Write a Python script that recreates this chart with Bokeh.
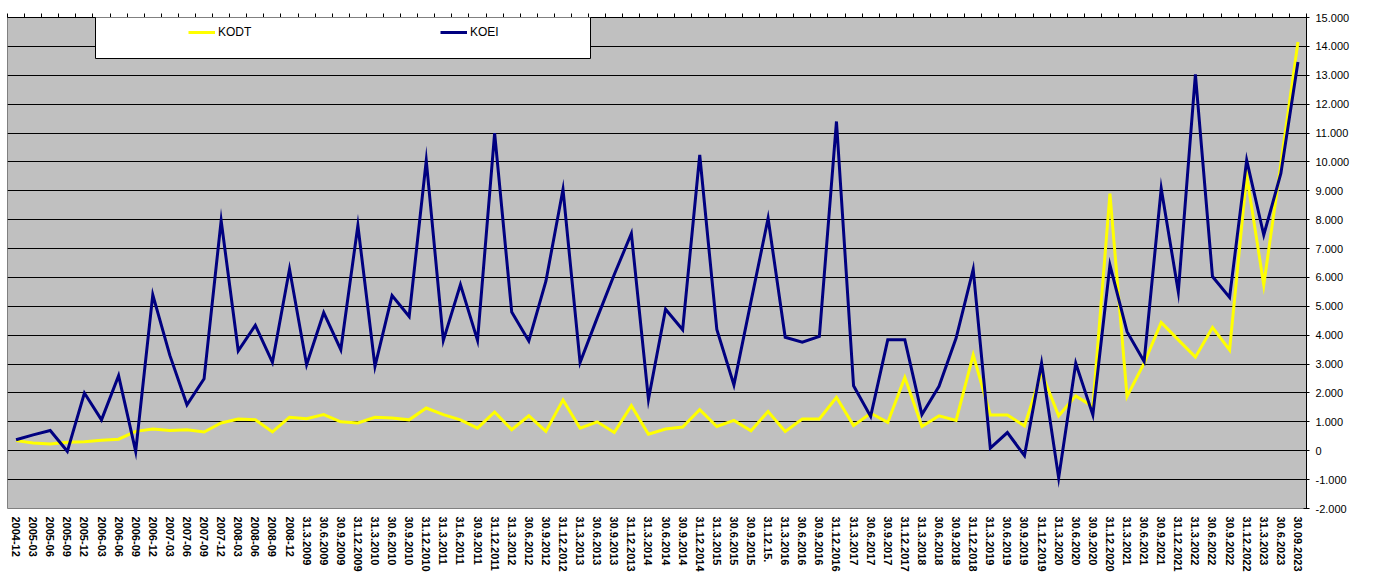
from bokeh.plotting import figure
from bokeh.models import (Range1d, LinearAxis, FixedTicker, SingleIntervalTicker,
                          CustomJSTickFormatter, Legend, LegendItem, BoxAnnotation, ColumnDataSource)
from bokeh.embed import file_html
from bokeh.resources import INLINE

periods = [
    "2004-12", "2005-03", "2005-06", "2005-09", "2005-12", "2006-03", "2006-06", "2006-09",
    "2006-12", "2007-03", "2007-06", "2007-09", "2007-12", "2008-03", "2008-06", "2008-09",
    "2008-12", "31.3.2009", "30.6.2009", "30.9.2009", "31.12.2009", "31.3.2010", "30.6.2010",
    "30.9.2010", "31.12.2010", "31.3.2011", "31.6.2011", "30.9.2011", "31.12.2011", "31.3.2012",
    "30.6.2012", "30.9.2012", "31.12.2012", "31.3.2013", "30.6.2013", "30.9.2013", "31.12.2013",
    "31.3.2014", "30.6.2014", "30.9.2014", "31.12.2014", "31.3.2015", "30.6.2015", "30.9.2015",
    "31.12.15.", "31.3.2016", "30.6.2016", "30.9.2016", "31.12.2016", "31.3.2017", "30.6.2017",
    "30.9.2017", "31.12.2017", "31.3.2018", "30.6.2018", "30.9.2018", "31.12.2018", "31.3.2019",
    "30.6.2019", "30.9.2019", "31.12.2019", "31.3.2020", "30.6.2020", "30.9.2020", "31.12.2020",
    "31.3.2021", "30.6.2021", "30.9.2021", "31.12.2021", "31.3.2022", "30.6.2022", "30.9.2022",
    "31.12.2022", "31.3.2023", "30.6.2023", "30.09.2023",
]

kodt = [
    350, 270, 230, 290, 310, 360, 400, 670,
    750, 700, 730, 650, 960, 1100, 1070, 650,
    1160, 1110, 1250, 1000, 960, 1160, 1130,
    1070, 1480, 1250, 1070, 780, 1340, 730,
    1210, 670, 1760, 780, 1000, 630, 1560,
    570, 750, 820, 1420, 840, 1050, 690,
    1360, 670, 1100, 1100, 1850, 870, 1300,
    980, 2540, 840, 1210, 1050, 3320, 1240,
    1240, 860, 2700, 1210, 1900, 1530, 8900,
    1880, 3030, 4440, 3840, 3240, 4270, 3490,
    9540, 5740, 9940, 14150,
]

koei = [
    380, 550, 700, -20, 2000, 1070, 2600, -20,
    5400, 3300, 1590, 2490, 7970, 3460, 4340, 3060,
    6290, 2980, 4780, 3500, 7800, 2920, 5370,
    4650, 10050, 3820, 5750, 3820, 11000, 4800,
    3800, 5870, 9050, 3050, 4600, 6100, 7520,
    1780, 4900, 4190, 10240, 4200, 2280, 5170,
    8050, 3930, 3760, 3960, 11400, 2250, 1190,
    3840, 3840, 1250, 2230, 3900, 6280, 90,
    630, -170, 3030, -940, 3030, 1240, 6430,
    4120, 3090, 9080, 5500, 13030, 6030, 5310,
    10060, 7470, 9600, 13460,
]

y_ticks_step = 1000
y_min, y_max = -2000, 15000

n = len(periods)
idx = list(range(n))
src = ColumnDataSource(data=dict(x=idx, period=periods, kodt=kodt, koei=koei))

p = figure(x_range=Range1d(-0.5, n - 0.5), y_range=Range1d(y_min, y_max),
           width=1376, height=574, output_backend="svg", toolbar_location=None,
           y_axis_location="right",
           min_border_left=7, min_border_top=17, min_border_right=70, min_border_bottom=66)

p.background_fill_color = "#C0C0C0"
p.border_fill_color = "white"
p.outline_line_color = "#808080"
p.outline_line_width = 1

# bottom category axis (one label per period)
xa = p.below[0]
xa.ticker = FixedTicker(ticks=idx, minor_ticks=[])
xa.major_label_overrides = {i: lab for i, lab in zip(idx, periods)}
xa.major_label_orientation = "vertical"
xa.axis_line_color = None
xa.major_tick_line_color = None
xa.minor_tick_line_color = None
xa.major_tick_out = 0
xa.major_tick_in = 0
xa.major_label_standoff = 8
xa.major_label_text_font = "Liberation Sans"
xa.major_label_text_font_size = "11px"
xa.major_label_text_font_style = "bold"
xa.major_label_text_color = "black"

# right value axis
ticker = SingleIntervalTicker(interval=y_ticks_step, num_minor_ticks=0)
ya = p.right[0]
ya.ticker = ticker
ya.formatter = CustomJSTickFormatter(code="""
    const v = Math.round(tick);
    const s = Math.abs(v).toString().replace(/\\B(?=(\\d{3})+(?!\\d))/g, '.');
    return (v < 0 ? '-' : '') + s;
""")
ya.axis_line_color = "black"
ya.major_tick_line_color = "black"
ya.major_tick_in = 3
ya.major_tick_out = 3
ya.minor_tick_line_color = None
ya.major_label_standoff = 6
ya.major_label_text_font = "Liberation Sans"
ya.major_label_text_font_size = "11px"
ya.major_label_text_color = "black"

p.xgrid.visible = False
p.ygrid.ticker = ticker
p.ygrid.grid_line_color = "black"
p.ygrid.grid_line_width = 1

# top axis with category boundary ticks (no labels)
top = LinearAxis(ticker=FixedTicker(ticks=[i - 0.5 for i in range(n + 1)], minor_ticks=[]),
                 major_label_text_font_size="0px", major_label_standoff=0,
                 major_tick_out=4, major_tick_in=0, minor_tick_line_color=None,
                 axis_line_color="black", major_tick_line_color="black")
p.add_layout(top, "above")

r1 = p.line(x="x", y="kodt", source=src, line_color="#FFFF00", line_width=3, line_join="miter")
r2 = p.line(x="x", y="koei", source=src, line_color="#000080", line_width=3, line_join="miter")

box = BoxAnnotation(left=88, right=583, top=501, bottom=450,
                    left_units="screen", right_units="screen",
                    top_units="screen", bottom_units="screen",
                    fill_color="white", fill_alpha=1.0, line_color="black", line_width=1, line_alpha=1.0)
p.add_layout(box)

legend = Legend(items=[LegendItem(label="KODT", renderers=[r1]),
                       LegendItem(label="KOEI", renderers=[r2])],
                location=(181, 466), orientation="horizontal",
                glyph_width=27, glyph_height=20, label_standoff=3, label_width=60, label_height=20,
                spacing=162, padding=0, margin=0,
                background_fill_alpha=0, border_line_color=None,
                label_text_font="Liberation Sans", label_text_font_size="12px", label_text_color="black")
p.add_layout(legend, "center")

open("out.html", "w").write(file_html(p, INLINE))
